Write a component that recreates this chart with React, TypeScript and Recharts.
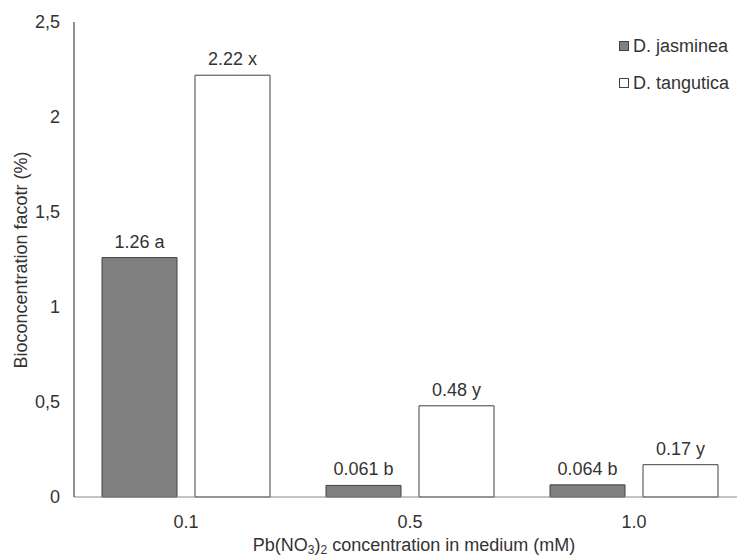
import { BarChart, Bar, XAxis, YAxis, LabelList } from 'recharts'

const categories = ['0.1', '0.5', '1.0']
const jasminea = [1.26, 0.061, 0.064]
const tangutica = [2.22, 0.48, 0.17]
const jasmineaLabels = ['1.26 a', '0.061 b', '0.064 b']
const tanguticaLabels = ['2.22 x', '0.48 y', '0.17 y']
const yTicks = [0, 0.5, 1, 1.5, 2, 2.5]

const font = '"Liberation Sans", Arial, sans-serif'
const textColor = '#333'
const fs = 18

const data = categories.map((c, i) => ({
  conc: c,
  jasminea: jasminea[i],
  tangutica: tangutica[i],
  jLabel: jasmineaLabels[i],
  tLabel: tanguticaLabels[i],
}))

const series = [
  { name: 'D. jasminea', fill: '#808080' },
  { name: 'D. tangutica', fill: '#ffffff' },
]

// legend drawn as an overlay so it doesn't steal room from the plot
function LegendBox() {
  return (
    <div
      style={{
        position: 'absolute',
        left: 619,
        top: 27,
        fontFamily: font,
        fontSize: fs,
        color: textColor,
        lineHeight: '20px',
      }}
    >
      {series.map(s => (
        <div key={s.name} style={{ display: 'flex', alignItems: 'center', height: 37 }}>
          <span
            style={{ width: 8, height: 8, background: s.fill, border: '1px solid #404040', marginRight: 4 }}
          />
          <span>{s.name}</span>
        </div>
      ))}
    </div>
  )
}

export default function App() {
  // the original figure is cropped a little on the right, so the plot runs past 737px
  return (
    <div
      style={{
        position: 'fixed',
        left: 0,
        top: 0,
        width: 737,
        height: 556,
        background: '#fff',
        overflow: 'hidden',
      }}
    >
      <BarChart
        width={746}
        height={556}
        data={data}
        margin={{ top: 22, right: 0, bottom: 29, left: 0 }}
        barCategoryGap={28}
        barGap={18}
      >
        <XAxis
          dataKey="conc"
          height={30}
          axisLine={{ stroke: '#898989' }}
          tickLine={false}
          tickMargin={12}
          tick={{ fill: textColor, fontSize: fs, fontFamily: font }}
          label={{
            content: () => (
              <text x={414} y={551} textAnchor="middle" fill={textColor} fontSize={fs} fontFamily={font}>
                Pb(NO
                <tspan fontSize={12} dy={3}>3</tspan>
                <tspan dy={-3}>)</tspan>
                <tspan fontSize={12} dy={3}>2</tspan>
                <tspan dy={-3}> concentration in medium  (mM)</tspan>
              </text>
            ),
          }}
        />
        <YAxis
          width={74}
          domain={[0, 2.5]}
          ticks={yTicks}
          interval={0}
          axisLine={{ stroke: '#262626' }}
          tickLine={false}
          tickMargin={8}
          tickFormatter={(v: number) => String(v).replace('.', ',')}
          tick={{ fill: textColor, fontSize: fs, fontFamily: font }}
          label={{
            content: () => (
              <text
                x={27}
                y={260}
                transform="rotate(-90 27 260)"
                textAnchor="middle"
                fill={textColor}
                fontSize={fs}
                fontFamily={font}
              >
                Bioconcentration facotr (%)
              </text>
            ),
          }}
        />
        <Bar dataKey="jasminea" name="D. jasminea" fill="#808080" stroke="#404040" isAnimationActive={false}>
          <LabelList dataKey="jLabel" position="top" offset={10} fill={textColor} fontSize={fs} fontFamily={font} />
        </Bar>
        <Bar dataKey="tangutica" name="D. tangutica" fill="#ffffff" stroke="#404040" isAnimationActive={false}>
          <LabelList dataKey="tLabel" position="top" offset={10} fill={textColor} fontSize={fs} fontFamily={font} />
        </Bar>
      </BarChart>
      <LegendBox />
    </div>
  )
}
